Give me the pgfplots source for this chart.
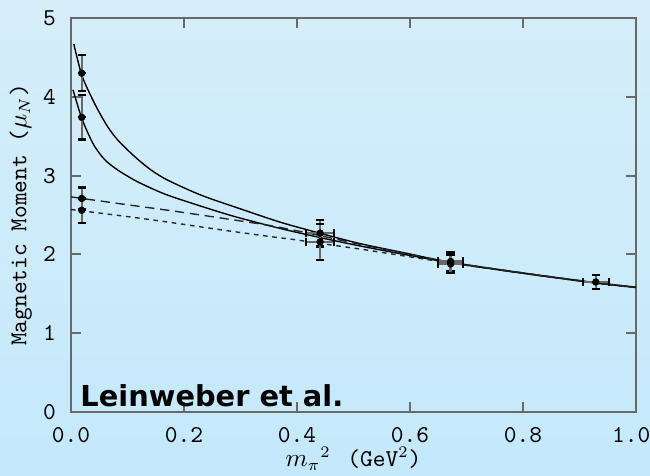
\documentclass[border=0pt]{standalone}
\usepackage{fontspec}
\newfontfamily\dejavu{DejaVu Sans}
\usepackage{pgfplots}
\pgfplotsset{compat=1.18}

\definecolor{bgtop}{RGB}{214,238,250}
\definecolor{bgbot}{RGB}{196,232,252}
\definecolor{axgray}{RGB}{105,105,105}

% 1 px of the reference = 0.4333pt
\begin{document}
\begin{tikzpicture}
\useasboundingbox (0,0) rectangle (281.65pt,206.25pt);
\shade[top color=bgtop, bottom color=bgbot] (0,0) rectangle (281.65pt,206.25pt);
\begin{axis}[
  at={(30.76pt,27.73pt)}, anchor=south west,
  scale only axis,
  width=244.8pt, height=170.7pt,
  xmin=0, xmax=1, ymin=0, ymax=5,
  xtick={0,0.2,0.4,0.6,0.8,1.0},
  xticklabels={0.0,0.2,0.4,0.6,0.8,{\hspace*{-4pt}1.0}},
  ytick={0,1,2,3,4,5},
  tick align=inside,
  major tick length=4.3pt,
  axis line style={axgray, line width=1.1pt},
  tick style={axgray, line width=0.9pt},
  /pgf/number format/assume math mode=true,
  ticklabel style={font=\ttfamily\fontsize{10.5}{12}\selectfont},
  xticklabel style={yshift=-3pt},
  yticklabel style={xshift=-3pt},
  xlabel={$m_{\pi}{}^{2}$\, {\ttfamily(GeV$^{2}$)}},
  ylabel={\ttfamily Magnetic Moment ($\mu_{N}$)},
  label style={font=\ttfamily\fontsize{10.5}{12}\selectfont},
  xlabel style={yshift=5pt},
  ylabel style={yshift=-2pt},
  clip=false,
]
% upper solid curve
\addplot[black, line width=0.6pt, smooth] coordinates {
  (0.005,4.67) (0.018,4.30) (0.030,4.09) (0.048,3.83) (0.065,3.62)
  (0.083,3.45) (0.113,3.24) (0.142,3.07) (0.172,2.94) (0.231,2.75)
  (0.30,2.578) (0.37,2.41) (0.44,2.27) (0.51,2.14) (0.59,2.02)
  (0.672,1.90) (0.8,1.765) (0.93,1.64) (1.0,1.585)
};
% lower solid curve
\addplot[black, line width=0.6pt, smooth] coordinates {
  (0.0035,4.09) (0.018,3.75) (0.030,3.54) (0.042,3.37) (0.060,3.20)
  (0.083,3.07) (0.113,2.94) (0.142,2.84) (0.172,2.75) (0.231,2.61)
  (0.29,2.48) (0.37,2.33) (0.44,2.215) (0.51,2.11) (0.59,2.00)
  (0.672,1.895) (0.8,1.76) (0.93,1.635) (1.0,1.58)
};
% long-dashed line
\addplot[black!85, line width=0.6pt, smooth, dash pattern=on 4pt off 2.5pt] coordinates {
  (0.0,2.73) (0.1,2.63) (0.172,2.56) (0.258,2.47) (0.349,2.37)
  (0.393,2.31) (0.44,2.24) (0.51,2.13) (0.59,2.015) (0.672,1.90)
  (0.8,1.765) (0.93,1.64) (1.0,1.585)
};
% short-dashed line
\addplot[black!85, line width=0.6pt, smooth, dash pattern=on 2pt off 2pt] coordinates {
  (0.0,2.57) (0.1,2.48) (0.172,2.41) (0.258,2.32) (0.349,2.23)
  (0.393,2.19) (0.44,2.14) (0.51,2.07) (0.59,1.98) (0.672,1.89)
  (0.8,1.76) (0.93,1.635) (1.0,1.58)
};
% lattice points
\addplot[only marks, mark=*, mark size=1.4pt, black,
  error bars/.cd, x dir=both, x explicit, y dir=both, y explicit,
  error bar style={axgray, line width=1pt},
  error mark options={black, line width=1pt, mark size=1.8pt, rotate=90}]
  coordinates {
  (0.019,4.30) +- (0,0.23)
  (0.019,3.74) +- (0,0.28)
  (0.019,2.71) +- (0,0.14)
  (0.019,2.56) +- (0,0.16)
  (0.441,2.27) +- (0.025,0.17)
  (0.441,2.16) +- (0.025,0.23)
  (0.672,1.91) +- (0.022,0.12)
  (0.672,1.88) +- (0.022,0.12)
  (0.929,1.65) +- (0.023,0.09)
};
\node[anchor=base west, inner sep=0pt, font=\dejavu\bfseries\fontsize{12.5}{14}\selectfont]
  at (axis cs:0.016,0.07) {Leinweber et al.};
\end{axis}
\end{tikzpicture}
\end{document}
